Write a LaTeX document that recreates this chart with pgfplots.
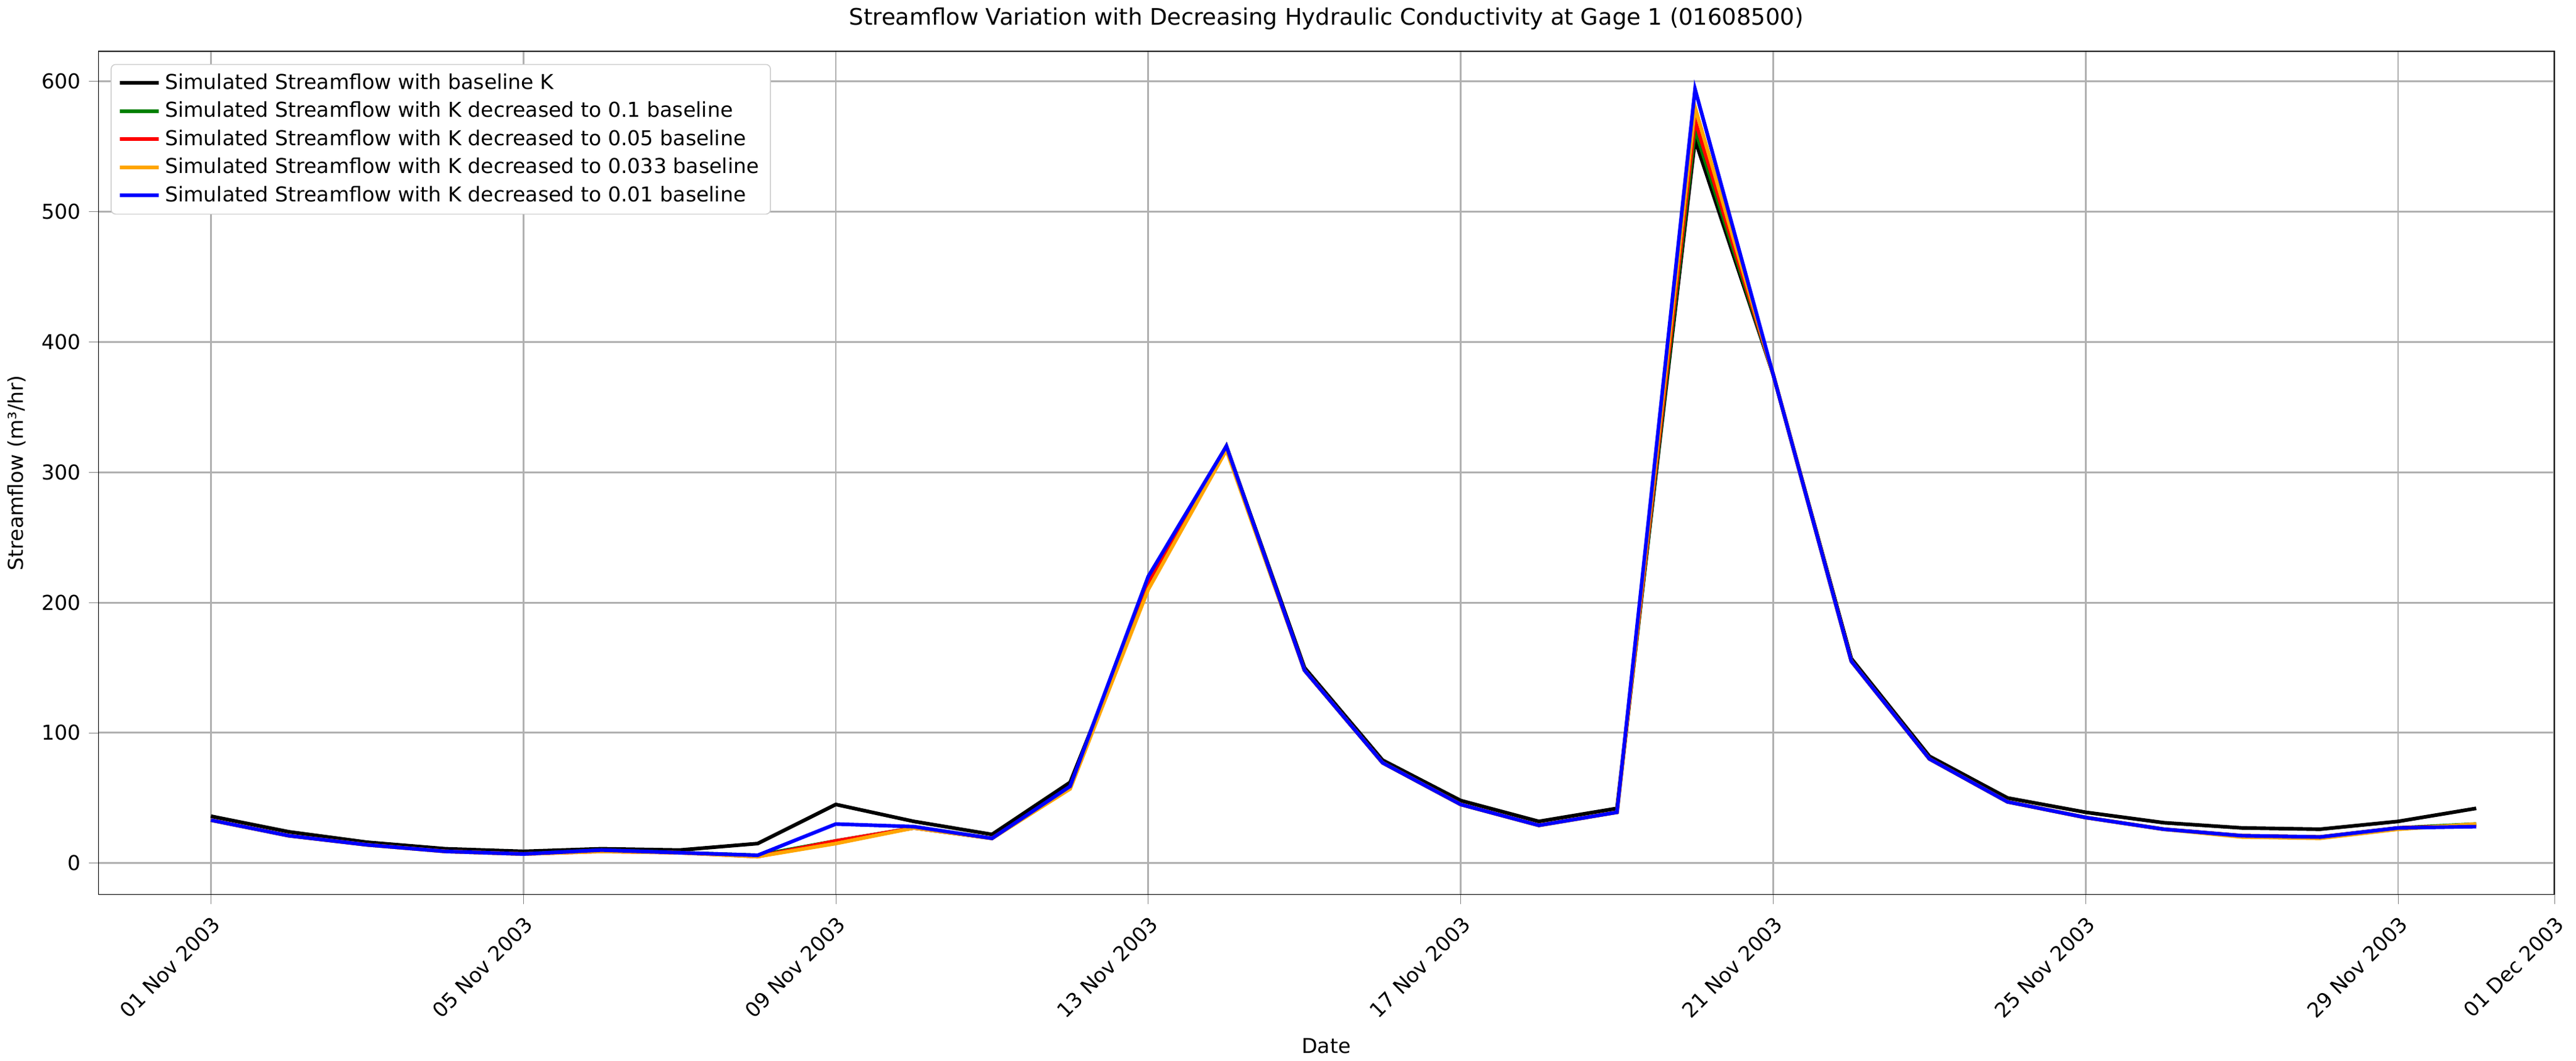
\documentclass[border=0pt]{standalone}
\usepackage{pgfplots}
\pgfplotsset{compat=1.18}
\usepackage{fontspec}
\setmainfont{DejaVu Sans}
\definecolor{mplorange}{HTML}{FFA500}
\definecolor{mplgreen}{HTML}{008000}
\definecolor{gridgray}{HTML}{B0B0B0}
\pgfplotstableread{
d k1 k2 k3 k4 k5
0 36 33 33 33 33
1 24 21 21 21 21
2 16 14 14 14 14
3 11 9 9 9 9
4 9 7 7 7 7
5 11 10 9 9 10
6 10 8 8 8 8
7 15 6 5 5 6
8 45 17 17 15 30
9 32 27 27 27 28
10 22 19 19 19 19
11 62 58 58 57 59
12 212 215 215 210 220
13 320 318 318 317 320
14 150 148 148 148 148
15 79 77 77 77 77
16 48 45 45 45 45
17 32 29 29 29 29
18 42 39 39 39 39
19 555 563 570 580 594
20 375 375 375 375 375
21 157 155 155 155 155
22 82 80 80 80 80
23 50 47 47 47 47
24 39 35 35 35 35
25 31 26 26 26 26
26 27 21 21 20 21
27 26 20 20 19 20
28 32 27 27 26 27
29 42 30 29 30 28
}\data
\begin{document}
\begin{tikzpicture}
\begin{axis}[
 width=14.92in, height=5.12in, scale only axis,
 xmin=-1.44, xmax=30.0, ymin=-24, ymax=623,
 xtick={0,4,8,12,16,20,24,28,30},
 xticklabels={01 Nov 2003,05 Nov 2003,09 Nov 2003,13 Nov 2003,17 Nov 2003,21 Nov 2003,25 Nov 2003,29 Nov 2003,01 Dec 2003},
 xticklabel style={rotate=45,anchor=north east,font=\small},
 ytick={0,100,...,600},
 yticklabel style={font=\small},
 /pgf/number format/assume math mode=true,
 grid=major, grid style={gridgray, line width=0.8pt},
 tick align=outside, tick pos=left,
 title={Streamflow Variation with Decreasing Hydraulic Conductivity at Gage 1 (01608500)},
 xlabel={\small Date}, ylabel={\small Streamflow (m³/hr)},
 legend cell align=left,
 legend style={at={(0.005,0.985)}, anchor=north west, font=\small, draw=gray!40, rounded corners=2pt},
 every axis plot/.append style={line width=1.6pt},
]
\addplot[black] table[x=d,y=k1]{\data};
\addlegendentry{Simulated Streamflow with baseline K}
\addplot[mplgreen] table[x=d,y=k2]{\data};
\addlegendentry{Simulated Streamflow with K decreased to 0.1 baseline}
\addplot[red] table[x=d,y=k3]{\data};
\addlegendentry{Simulated Streamflow with K decreased to 0.05 baseline}
\addplot[mplorange] table[x=d,y=k4]{\data};
\addlegendentry{Simulated Streamflow with K decreased to 0.033 baseline}
\addplot[blue] table[x=d,y=k5]{\data};
\addlegendentry{Simulated Streamflow with K decreased to 0.01 baseline}
\end{axis}
\end{tikzpicture}
\end{document}
